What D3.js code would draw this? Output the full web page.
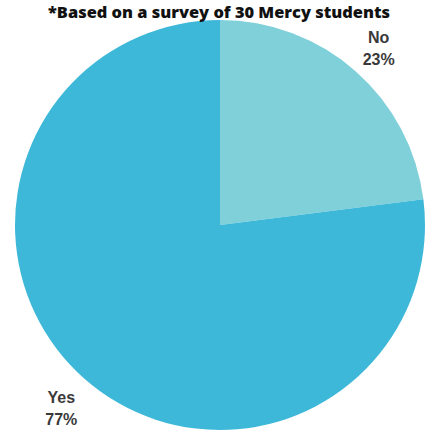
<!DOCTYPE html>
<html><head><meta charset="utf-8">
<script src="https://cdn.jsdelivr.net/npm/d3@7"></script>
<style>body{margin:0;background:#fff}</style>
</head><body>
<script>
const categories = ["No", "Yes"];
const values = [23, 77];
const labels = ["23%", "77%"];
const colors = ["#80d0da", "#3db8d8"];
const title = "*Based on a survey of 30 Mercy students";

const W = 434, H = 434, cx = 220, cy = 225, R = 205;
const svg = d3.select("body").append("svg").attr("width", W).attr("height", H);
const data = categories.map((c, i) => ({cat: c, value: values[i], label: labels[i], color: colors[i]}));
const pie = d3.pie().sort(null).value(d => d.value);
const arc = d3.arc().innerRadius(0).outerRadius(R);
const g = svg.append("g").attr("transform", `translate(${cx},${cy})`);
const arcs = pie(data);
g.selectAll("path").data(arcs).join("path").attr("d", arc).attr("fill", d => d.data.color);

const labelArc = d3.arc().innerRadius(240).outerRadius(240);
const lg = g.selectAll("g.lab").data(arcs).join("g").attr("class", "lab")
  .attr("transform", d => { const [x, y] = labelArc.centroid(d); return `translate(${x},${y})`; });
lg.append("text").attr("text-anchor", "middle").attr("y", -2)
  .style("font-family", "Liberation Sans, Arial, sans-serif").style("font-size", "16px").style("font-weight", "bold")
  .attr("fill", "#3a3a3a").text(d => d.data.cat);
lg.append("text").attr("text-anchor", "middle").attr("y", 20)
  .style("font-family", "Liberation Sans, Arial, sans-serif").style("font-size", "16px").style("font-weight", "bold")
  .attr("fill", "#3a3a3a").text(d => d.data.label);

const t = svg.append("text").attr("x", 219).attr("y", 18).attr("text-anchor", "middle")
  .style("font-family", "Open Sans, sans-serif").style("font-weight", "800").style("font-size", "17px")
  .attr("fill", "#111").text(title);
const len = t.node().getComputedTextLength();
t.style("font-size", (17 * 342 / len).toFixed(2) + "px");
</script>
</body></html>
